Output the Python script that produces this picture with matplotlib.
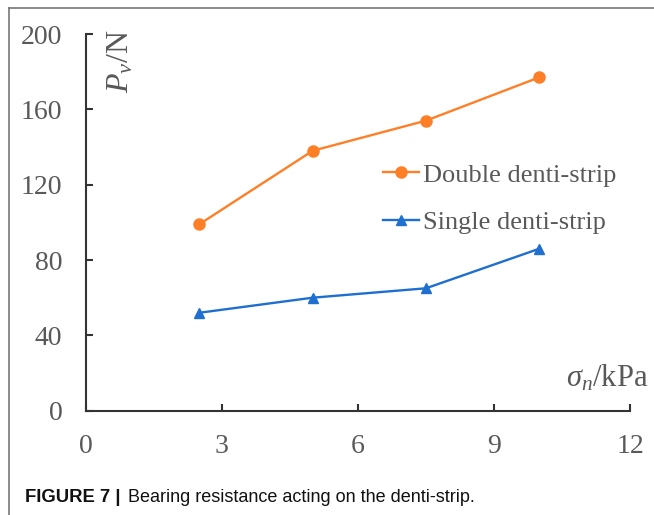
import matplotlib
matplotlib.use('agg')
import matplotlib.pyplot as plt
from matplotlib.lines import Line2D

# data
sigma_n = [2.5, 5, 7.5, 10]
double_strip = [99, 138, 154, 177]
single_strip = [52, 60, 65, 86]
x_ticks = [0, 3, 6, 9, 12]
y_ticks = [0, 40, 80, 120, 160, 200]

plt.rcParams['font.family'] = ['Liberation Serif', 'DejaVu Serif']
plt.rcParams['mathtext.fontset'] = 'custom'
plt.rcParams['mathtext.rm'] = 'Liberation Serif'
plt.rcParams['mathtext.it'] = 'Liberation Serif:italic'

fig = plt.figure(figsize=(6.54, 5.15), dpi=100)
ax = fig.add_axes([86/654, 1-410.7/515, (630-86)/654, (410.7-34)/515])

ax.plot(sigma_n, double_strip, color='#FF7F27', marker='o', markersize=8,
        linewidth=1.7, label='Double denti-strip', clip_on=False)
ax.plot(sigma_n, single_strip, color='#1E6FD0', marker='^', markersize=7,
        linewidth=1.7, label='Single denti-strip', clip_on=False)

ax.set_xlim(0, 12)
ax.set_ylim(0, 200)
ax.set_xticks(x_ticks)
ax.set_yticks(y_ticks)
for s in ['top', 'right']:
    ax.spines[s].set_visible(False)
for s in ['left', 'bottom']:
    ax.spines[s].set_linewidth(1.5)
    ax.spines[s].set_color('#333333')
ax.tick_params(direction='in', length=5, width=1.5, color='#333333',
               labelsize=20, labelcolor='#595959', pad=17)

leg = ax.legend(loc='upper left', bbox_to_anchor=(370/654, 1-150/515),
                bbox_transform=fig.transFigure, frameon=False, fontsize=19,
                handlelength=1.35, handletextpad=0.15, labelspacing=0.9,
                borderpad=0)
for t in leg.get_texts():
    t.set_color('#595959')

fig.text(121/654, 1-29/515, r'$P_v$/N', rotation=90, ha='center', va='top',
         fontsize=23, color='#595959')
fig.text(648/654, 1-378/515, r'$\sigma_n$/kPa', ha='right', va='center',
         fontsize=22, color='#595959')

# outer frame
fig.add_artist(Line2D([9/654, 1], [1-8/515, 1-8/515], transform=fig.transFigure,
                      color='#777777', linewidth=1.2))
fig.add_artist(Line2D([9/654, 9/654], [0, 1-8/515], transform=fig.transFigure,
                      color='#777777', linewidth=1.2))

# caption
fig.text(25/654, 1-498/515, 'FIGURE 7 |', family='Liberation Sans',
         fontweight='bold', fontsize=13.3, va='center', color='#111111')
fig.text(128/654, 1-498/515, 'Bearing resistance acting on the denti-strip.',
         family='Liberation Sans', fontsize=13, va='center', color='#111111')

fig.savefig('out.png', dpi=100)
